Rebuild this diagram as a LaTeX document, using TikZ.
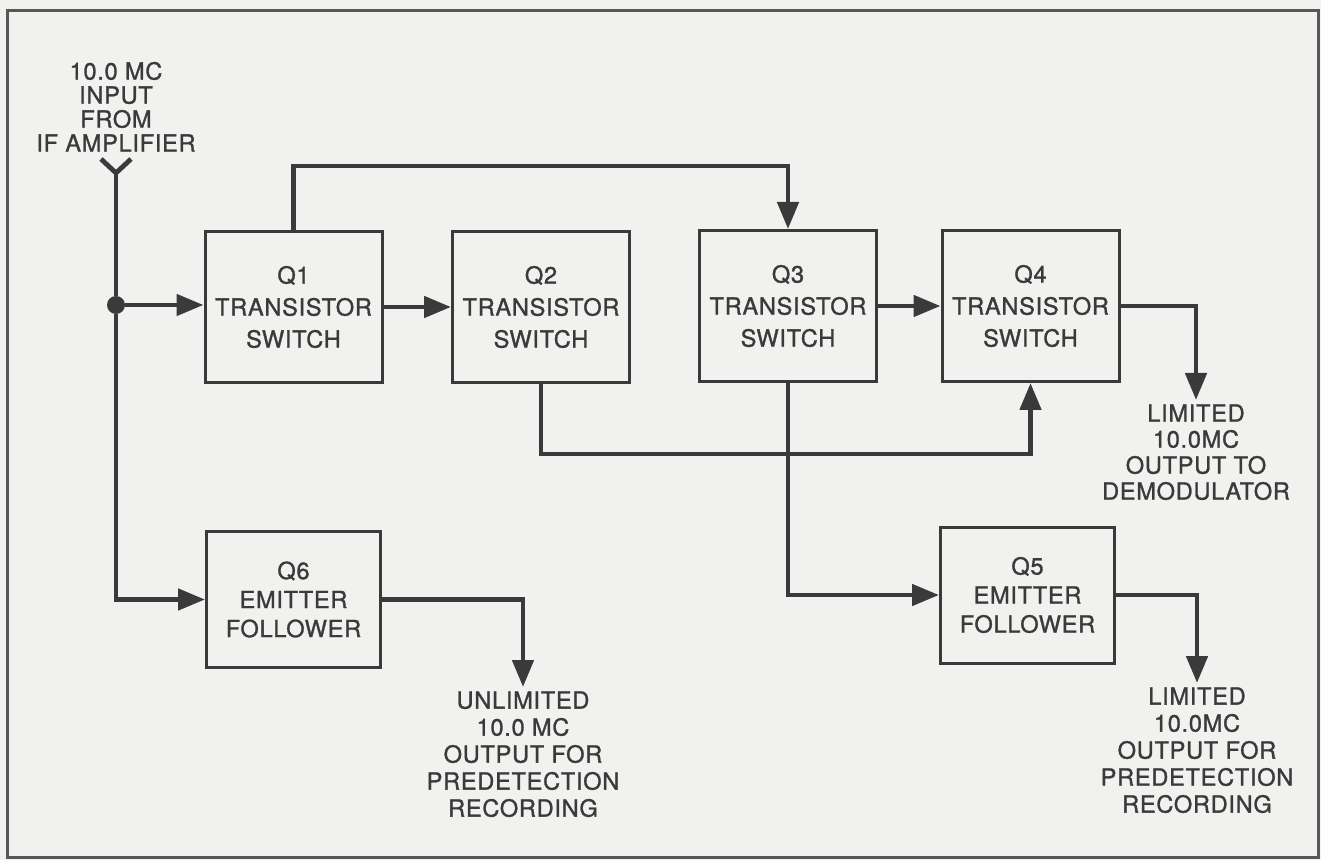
\documentclass[tikz,border=0pt]{standalone}
\usepackage{fontspec}
\setmainfont{TeX Gyre Heros}[LetterSpace=3,FakeBold=1.2]
\usepackage{tikz}
\usetikzlibrary{arrows.meta,calc}
\definecolor{ink}{HTML}{3A3A3A}
\definecolor{paper}{HTML}{F1F1EF}

\begin{document}
\begin{tikzpicture}[x=0.5pt,y=-0.5pt,
  block/.style={draw=ink,line width=1.5pt,minimum width=88.5pt,minimum height=75.5pt,
    align=center,text=ink,font=\fontsize{11.8}{16}\selectfont},
  emit/.style={block,minimum width=87pt,minimum height=68pt,font=\fontsize{11.8}{14.5}\selectfont},
  sig/.style={draw=ink,line width=2.4pt,-{Triangle[length=13.5pt,width=10.5pt]}},
  wire/.style={draw=ink,line width=2.4pt},
  lbl/.style={align=center,text=ink,inner sep=2pt,font=\fontsize{11.8}{13.5}\selectfont}]
 % Fondo y marco
 \useasboundingbox (0,0) rectangle (1321,860);
 \fill[paper] (0,0) rectangle (1321,860);
 \draw[ink!85,line width=1.5pt] (7,11) rectangle (1318,857);

 % Bloques
 \node[block] (q1) at (293.5,307) {Q1\\TRANSISTOR\\SWITCH};
 \node[block] (q2) at (541,307)   {Q2\\TRANSISTOR\\SWITCH};
 \node[block] (q3) at (788,306)   {Q3\\TRANSISTOR\\SWITCH};
 \node[block] (q4) at (1030.5,306) {Q4\\TRANSISTOR\\SWITCH};
 \node[emit]  (q6) at (293.5,599.5) {Q6\\EMITTER\\FOLLOWER};
 \node[emit]  (q5) at (1027.5,595)  {Q5\\EMITTER\\FOLLOWER};

 % Entrada
 \coordinate (ant)  at (116,173);
 \coordinate (armL) at (101,159);
 \coordinate (armR) at (131,159);
 \node[circle,fill=ink,inner sep=0pt,minimum size=9pt] (jn) at (116,305) {};
 \node[lbl,anchor=south,font=\fontsize{11.8}{12}\selectfont] (inlbl) at (116,156)
   {10.0 MC\\INPUT\\FROM\\IF AMPLIFIER};
 \draw[wire] (armL) -- (ant) -- (armR);
 \draw[wire] (ant) -- (jn);
 \draw[sig] (jn) -- (jn -| q1.west);
 \draw[sig] (jn) |- (q6.west);

 % Conexiones
 \draw[sig] (q1.east) -- (q2.west);
 \draw[sig] (q1.north) -- ++(0,-64) -| (q3.north);
 \draw[sig] (q2.south) -- ++(0,70) -| (q4.south);
 \draw[sig] (q3.east) -- (q4.west);
 \draw[sig] (q3.south) |- (q5.west);

 % Salidas
 \coordinate (out4) at (1196,400);
 \coordinate (out5) at (1197,683);
 \coordinate (out6) at (523,687);
 \draw[sig] (q4.east) -| (out4);
 \draw[sig] (q5.east) -| (out5);
 \draw[sig] (q6.east) -| (out6);

 % Etiquetas
 \node[lbl,anchor=north,font=\fontsize{11.8}{13}\selectfont] (lbl4) at (out4)
   {LIMITED\\10.0MC\\OUTPUT TO\\DEMODULATOR};
 \node[lbl,anchor=north] (lbl5) at (out5)
   {LIMITED\\10.0MC\\OUTPUT FOR\\PREDETECTION\\RECORDING};
 \node[lbl,anchor=north] (lbl6) at (out6)
   {UNLIMITED\\10.0 MC\\OUTPUT FOR\\PREDETECTION\\RECORDING};
\end{tikzpicture}
\end{document}
